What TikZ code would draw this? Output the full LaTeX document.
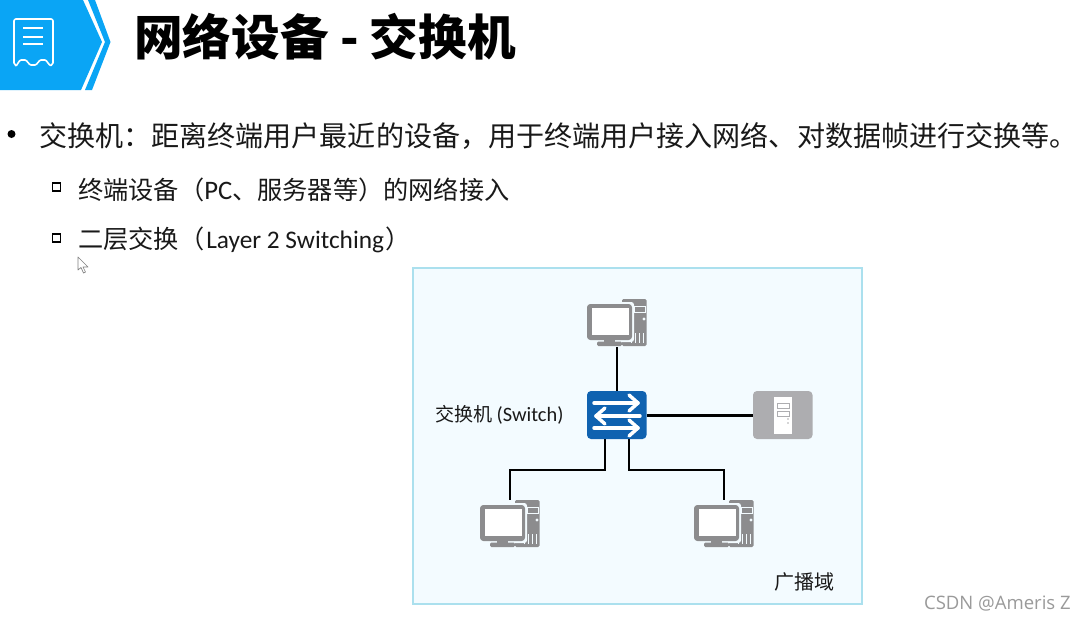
\documentclass[tikz,border=0pt]{standalone}
\usepackage{fontspec}
\setmainfont{Noto Sans CJK SC}
\newfontfamily\latinfont{Open Sans}
\newfontfamily\calfont{Carlito}
\definecolor{hdrblue}{HTML}{0AA5F5}
\definecolor{swblue}{HTML}{0F62B0}
\definecolor{pcgray}{HTML}{8C8C8E}
\definecolor{srvgray}{HTML}{ADADB0}
\definecolor{areafill}{HTML}{F3FBFF}
\definecolor{arealine}{HTML}{ABE0EE}
\definecolor{wmgray}{HTML}{9A9A9A}
\tikzset{
  devbox/.style={minimum width=44.25pt,minimum height=36pt,inner sep=0pt,outer sep=0pt},
  link/.style={draw=black,line width=2.1pt},
  textline/.style={anchor=west,inner sep=0pt,text=black!90},
  bulletsq/.style={draw=black,line width=1.4pt,minimum size=6pt,inner sep=0pt,fill=white},
  whitearrow/.style={draw=white,line width=2.6pt,line cap=round,line join=round},
  pcicon/.pic={
    \fill[pcgray,rounded corners=1pt] (5,-24) rectangle (29.5,23);
    \draw[areafill,line width=0.7pt] (17,-17) rectangle (28,-11);
    \fill[areafill] (27,-4) circle (1.6);
    \foreach \q in {14,18,22,26} {\fill[areafill] (\q,10) rectangle (\q+1.3,20);}
    \fill[areafill,rounded corners=2pt] (-32,-21) rectangle (17,19);
    \fill[pcgray,rounded corners=2.5pt] (-30,-19) rectangle (15,17);
    \fill[white] (-25,-15) rectangle (12,12);
    \fill[pcgray] (-13,17) rectangle (-2,20);
    \fill[pcgray,rounded corners=1pt] (-20,18.5) rectangle (5,23);
  },
  swicon/.pic={
    \fill[swblue,rounded corners=3pt] (-30,-24) rectangle (29.5,24);
    \draw[whitearrow] (-23,-12) -- (21,-12);
    \draw[whitearrow] (12,-20) -- (21,-12) -- (12,-4);
    \draw[whitearrow] (23,1) -- (-21,1);
    \draw[whitearrow] (-12,-7) -- (-21,1) -- (-12,9);
    \draw[whitearrow] (-23,13) -- (21,13);
    \draw[whitearrow] (12,5) -- (21,13) -- (12,21);
  },
  srvicon/.pic={
    \fill[srvgray,rounded corners=3pt] (-30,-24) rectangle (29.5,24);
    \fill[white] (-9,-18) rectangle (9,19);
    \draw[srvgray,line width=0.6pt] (-6,-12) rectangle (6,-7);
    \draw[srvgray,line width=0.6pt] (-6,-4) rectangle (6,1);
    \fill[srvgray] (5,4) circle (0.8) (5,8) circle (0.8);
  }
}
\begin{document}
\begin{tikzpicture}[x=0.75pt,y=-0.75pt]
\useasboundingbox (0,0) rectangle (1086,621);
\fill[white] (0,0) rectangle (1086,621);
% header
\fill[hdrblue] (0,0) -- (83,0) -- (102,42) -- (81,90) -- (0,90) -- cycle;
\fill[hdrblue] (88,0) -- (95,0) -- (110.5,42) -- (92,90) -- (85,90) -- (105,42) -- cycle;
\draw[white,line width=1.2pt,line join=round,rounded corners=1.5pt]
  (14,19) -- (53,19) -- (53,65) .. controls (49,66) and (47,60) .. (43,60)
  .. controls (39,60) and (37,65) .. (33,65) .. controls (29,65) and (27,60) .. (23,60)
  .. controls (19,60) and (17,66) .. (14,65) -- cycle;
\foreach \q in {28,37,44} {\draw[white,line width=1.4pt] (23,\q) -- (43,\q);}
\node[textline,text=black,font=\fontsize{36.5}{36.5}\selectfont\bfseries] (title) at (134,37) {网络设备 - 交换机};
% bullets
\node[circle,fill=black,minimum size=6pt,inner sep=0pt] (bul) at (11.5,134) {};
\node[textline,font=\fontsize{21.05}{21.05}\selectfont] (t1) at (39,136) {交换机：距离终端用户最近的设备，用于终端用户接入网络、对数据帧进行交换等。};
\node[bulletsq] (b2) at (56.5,187) {};
\node[textline,font=\fontsize{18.9}{18.9}\selectfont] (t2) at (78,190) {终端设备（{\calfont\fontsize{20}{20}\selectfont PC}、服务器等）的网络接入};
\node[bulletsq] (b3) at (56.5,238) {};
\node[textline,font=\fontsize{18.9}{18.9}\selectfont] (t3) at (78,240) {二层交换（\hspace{1.5pt}{\calfont\fontsize{19}{19}\selectfont Layer 2 Switching}\hspace{1pt}）};
% cursor
\draw[gray,fill=white,line width=0.5pt,line join=round] (78,257) -- (78,270) -- (81,267.5) -- (83.5,273) -- (85.5,272) -- (83,267) -- (88,267) -- cycle;
% area
\node[draw=arealine,fill=areafill,line width=1.7pt,minimum width=336.75pt,minimum height=252pt,inner sep=0pt,anchor=north west] (area) at (411.5,266.5) {};
% devices
\node[devbox] (pc1) at (617,323) {};
\node[devbox] (sw) at (617,415.5) {};
\node[devbox] (srv) at (783,415.5) {};
\node[devbox] (pc2) at (510,524) {};
\node[devbox] (pc3) at (724,524) {};
\coordinate (swl) at (605,439);
\coordinate (swr) at (629,439);
\coordinate (kl) at (605,470);
\coordinate (kr) at (629,470);
\draw[link] (pc1.south) -- (sw.north);
\draw[link] (sw.east) -- (srv.west);
\draw[link] (swl) -- (kl) -| (pc2.north);
\draw[link] (swr) -- (kr) -| (pc3.north);
\pic at (617,323) {pcicon};
\pic at (510,524) {pcicon};
\pic at (724,524) {pcicon};
\pic at (617,415) {swicon};
\pic at (783,415) {srvicon};
\node[textline,font=\fontsize{14.3}{14.3}\selectfont] (swlabel) at (435,415) {交换机 {\calfont\fontsize{15.3}{15.3}\selectfont (Switch)}};
\node[textline,font=\fontsize{15}{15}\selectfont] (bcast) at (774,582) {广播域};
% watermark
\node[anchor=east,inner sep=0pt,text=wmgray,font=\fontsize{13.9}{13.9}\selectfont\latinfont] (wm) at (1071,604) {CSDN @Ameris Z};
\end{tikzpicture}
\end{document}
